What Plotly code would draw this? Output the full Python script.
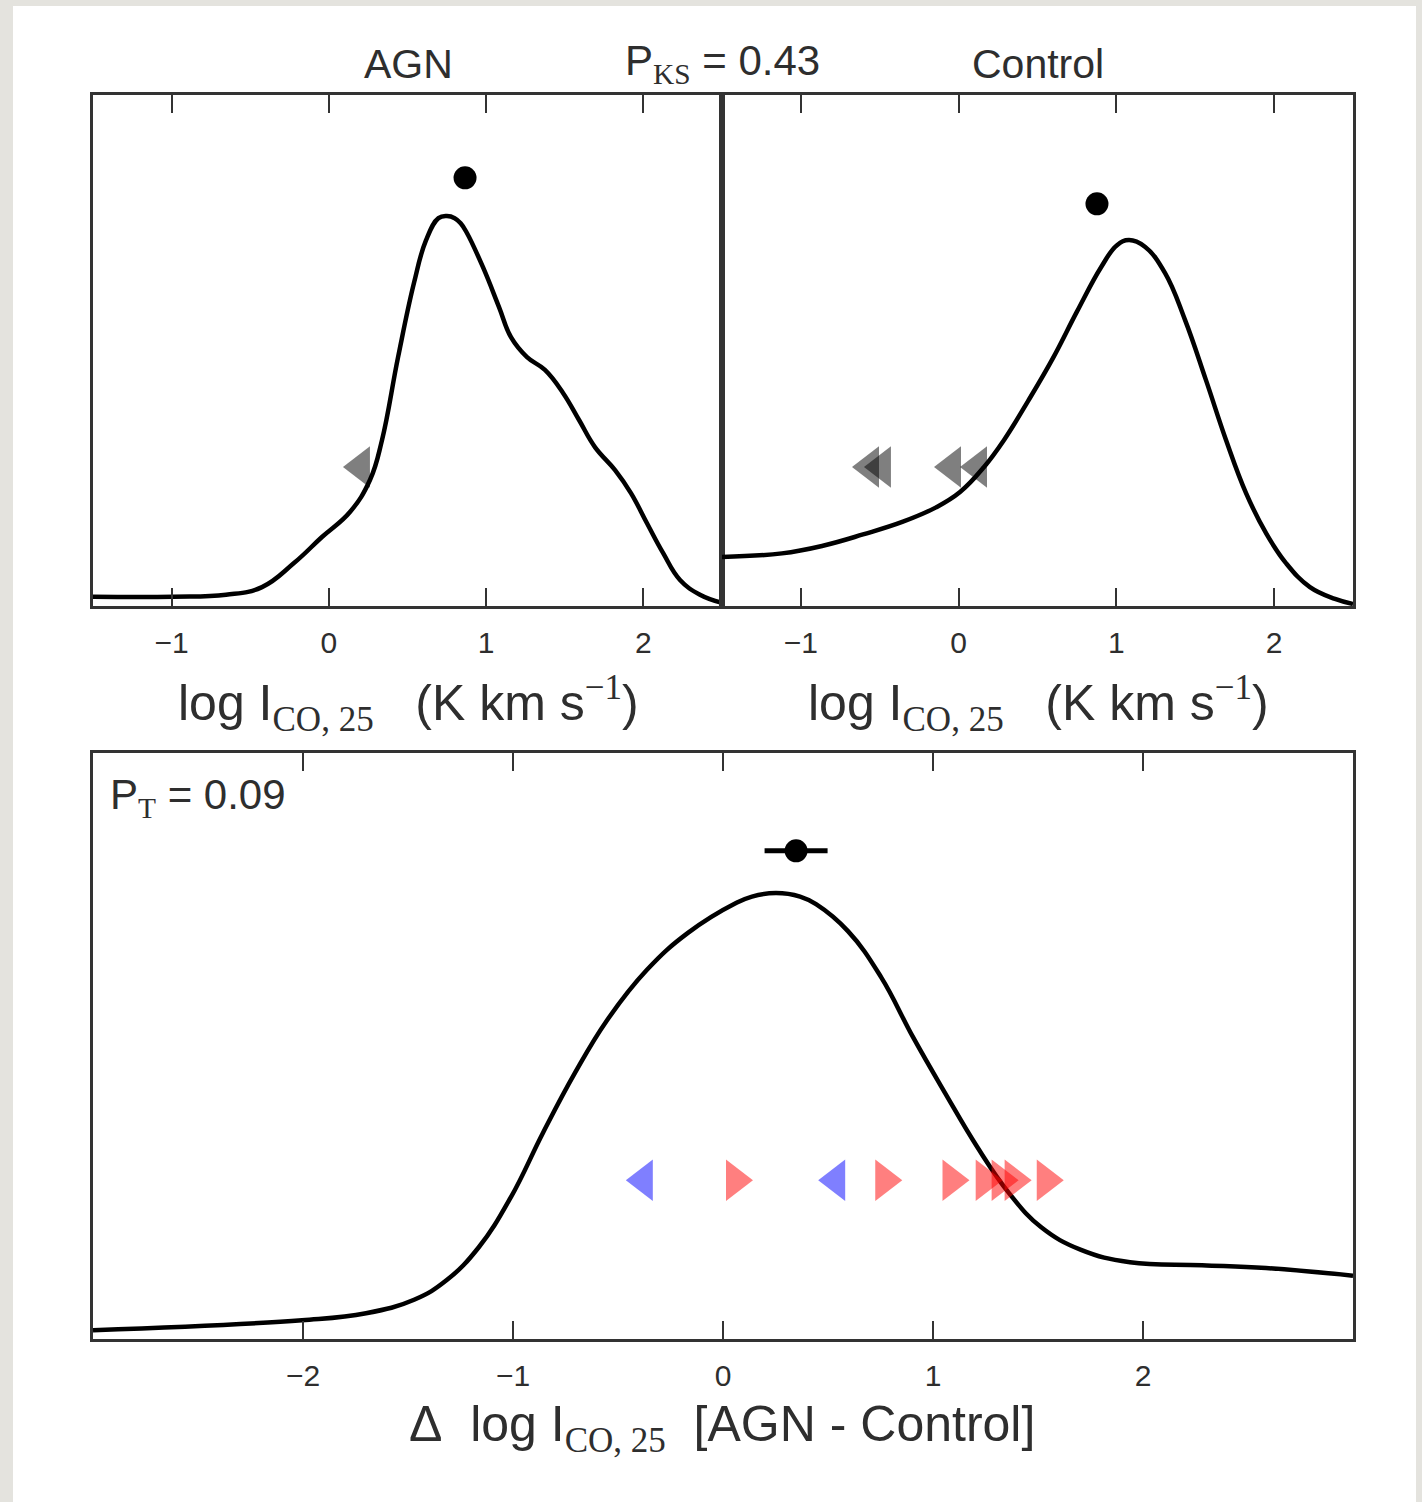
import plotly.graph_objects as go

# ---------------- data ----------------
# AGN panel: KDE curve of log I_CO,25
agn_kde_x = [-1.5, -0.991, -0.654, -0.425, -0.222, -0.044, 0.134, 0.262, 0.338, 0.440,
             0.541, 0.618, 0.697, 0.751, 0.800, 0.838, 0.878, 0.980, 1.082, 1.158, 1.260,
             1.374, 1.489, 1.591, 1.692, 1.820, 1.921, 2.023, 2.125, 2.233, 2.360, 2.5]
agn_kde_y = [0.018, 0.018, 0.022, 0.037, 0.084, 0.135, 0.184, 0.247, 0.325, 0.487,
             0.632, 0.716, 0.759, 0.763, 0.759, 0.749, 0.730, 0.663, 0.585, 0.526, 0.487,
             0.462, 0.417, 0.364, 0.311, 0.266, 0.221, 0.162, 0.104, 0.051, 0.022, 0.006]
agn_median = [0.866]
agn_median_y = [0.838]
agn_limits = [0.204]
agn_limits_y = [0.272]

# Control panel
ctl_kde_x = [-1.5, -1.120, -0.860, -0.606, -0.353, -0.143, 0.009, 0.161, 0.288, 0.440,
             0.598, 0.750, 0.903, 1.004, 1.080, 1.181, 1.308, 1.435, 1.568, 1.695,
             1.822, 1.948, 2.075, 2.227, 2.386, 2.5]
ctl_kde_y = [0.096, 0.103, 0.118, 0.140, 0.165, 0.193, 0.223, 0.272, 0.325, 0.401,
             0.485, 0.576, 0.663, 0.706, 0.716, 0.703, 0.652, 0.560, 0.442, 0.325,
             0.221, 0.143, 0.084, 0.037, 0.014, 0.004]
ctl_median = [0.877]
ctl_median_y = [0.787]
ctl_limits = [-0.562, -0.486, -0.042, 0.123]
ctl_limits_y = [0.272, 0.272, 0.272, 0.272]

# Difference panel
diff_kde_x = [-3.0, -2.005, -1.700, -1.471, -1.314, -1.162, -1.010, -0.857, -0.705, -0.552,
              -0.362, -0.167, 0.062, 0.138, 0.252, 0.367, 0.443, 0.595, 0.752, 0.905, 1.057,
              1.210, 1.362, 1.514, 1.705, 1.938, 2.281, 2.586, 3.0]
diff_kde_y = [0.015, 0.032, 0.044, 0.067, 0.101, 0.157, 0.242, 0.352, 0.454, 0.544,
              0.630, 0.693, 0.744, 0.755, 0.761, 0.755, 0.742, 0.696, 0.618, 0.515, 0.420,
              0.328, 0.249, 0.191, 0.152, 0.131, 0.126, 0.121, 0.108]
diff_mean = [0.348]
diff_mean_y = [0.833]
diff_mean_err = [0.150]
diff_upper = [-0.377, 0.539]          # blue, left-pointing
diff_upper_y = [0.271, 0.271]
diff_lower = [0.057, 0.768, 1.088, 1.246, 1.322, 1.384, 1.537]   # red, right-pointing
diff_lower_y = [0.271] * 7

top_ticks = [-1, 0, 1, 2]
bottom_ticks = [-2, -1, 0, 1, 2]

# ---------------- figure ----------------
W, H = 1422, 1502
FONT = "Liberation Sans, Arial, sans-serif"
TXT = "#2e2e2e"
FRAME = "#333333"
BG = "#e4e3de"

def px(x):
    return x / W

def py(y):
    return 1 - y / H

fig = go.Figure()

line_style = dict(color="black", width=4.5, shape="spline", smoothing=1.2)

def tri(xs, ys, symbol, color, xa, ya):
    return go.Scatter(x=xs, y=ys, mode="markers",
                      marker=dict(symbol=symbol, size=36, color=color, line=dict(width=0)),
                      xaxis=xa, yaxis=ya)

def dot(xs, ys, xa, ya, err=None):
    kw = {}
    if err is not None:
        kw["error_x"] = dict(type="data", array=err, color="black", thickness=5, width=0)
    return go.Scatter(x=xs, y=ys, mode="markers",
                      marker=dict(size=23, color="black", line=dict(width=0)),
                      xaxis=xa, yaxis=ya, **kw)

fig.add_trace(go.Scatter(x=agn_kde_x, y=agn_kde_y, mode="lines", line=line_style,
                         xaxis="x", yaxis="y", hoverinfo="skip"))
fig.add_trace(tri(agn_limits, agn_limits_y, "triangle-left", "rgba(0,0,0,0.5)", "x", "y"))
fig.add_trace(dot(agn_median, agn_median_y, "x", "y"))

fig.add_trace(go.Scatter(x=ctl_kde_x, y=ctl_kde_y, mode="lines", line=line_style,
                         xaxis="x2", yaxis="y2", hoverinfo="skip"))
fig.add_trace(tri(ctl_limits, ctl_limits_y, "triangle-left", "rgba(0,0,0,0.5)", "x2", "y2"))
fig.add_trace(dot(ctl_median, ctl_median_y, "x2", "y2"))

fig.add_trace(go.Scatter(x=diff_kde_x, y=diff_kde_y, mode="lines", line=line_style,
                         xaxis="x3", yaxis="y3", hoverinfo="skip"))
fig.add_trace(tri(diff_upper, diff_upper_y, "triangle-left", "rgba(0,0,255,0.5)", "x3", "y3"))
fig.add_trace(tri(diff_lower, diff_lower_y, "triangle-right", "rgba(255,0,0,0.5)", "x3", "y3"))
fig.add_trace(dot(diff_mean, diff_mean_y, "x3", "y3", err=diff_mean_err))

def xax(domain, rng, ticks, anchor):
    return dict(domain=domain, range=rng, tickvals=ticks,
                ticktext=[("\u2212" + str(-t)) if t < 0 else str(t) for t in ticks],
                ticks="inside", ticklen=18, tickwidth=2, tickcolor=FRAME,
                showline=True, linewidth=3, linecolor=FRAME, mirror="allticks",
                showgrid=False, zeroline=False, anchor=anchor,
                tickfont=dict(family=FONT, size=30, color=TXT), ticklabelstandoff=8)

def yax(domain, anchor):
    return dict(domain=domain, range=[0, 1], showticklabels=False, ticks="",
                showline=True, linewidth=3, linecolor=FRAME, mirror=True,
                showgrid=False, zeroline=False, anchor=anchor)

fig.update_layout(
    width=W, height=H,
    margin=dict(l=0, r=0, t=0, b=0),
    paper_bgcolor=BG,
    plot_bgcolor="white",
    showlegend=False,
    font=dict(family=FONT, color=TXT),
    xaxis=xax([px(93), px(722)], [-1.5, 2.5], top_ticks, "y"),
    yaxis=yax([py(606), py(95)], "x"),
    xaxis2=xax([px(722), px(1353)], [-1.5, 2.5], top_ticks, "y2"),
    yaxis2=yax([py(606), py(95)], "x2"),
    xaxis3=xax([px(93), px(1353)], [-3, 3], bottom_ticks, "y3"),
    yaxis3=yax([py(1339), py(753)], "x3"),
)

# white card behind the figure
fig.add_shape(type="rect", xref="paper", yref="paper", x0=px(13), x1=px(1416), y0=0, y1=py(6),
              fillcolor="white", line=dict(width=0), layer="below")

def sub(t):
    return "<sub><span style=\"font-family:'Liberation Serif'\">" + t + "</span></sub>"

def sup(t):
    return "<sup><span style=\"font-family:'Liberation Serif'\">" + t + "</span></sup>"

ann = []
def add_text(text, x, y, size, xanchor="center"):
    ann.append(dict(text=text, x=px(x), y=py(y), xref="paper", yref="paper",
                    xanchor=xanchor, yanchor="middle", showarrow=False,
                    font=dict(family=FONT, size=size, color=TXT)))

add_text("AGN", 408, 64, 41)
add_text("Control", 1038, 64, 41)
add_text("P" + sub("KS") + " = 0.43", 722, 64, 42)
add_text("P" + sub("T") + " = 0.09", 108, 798, 42, xanchor="left")
lab = "log I" + sub("CO, 25") + "\u00a0\u00a0\u00a0(K km s" + sup("\u22121") + ")"
add_text(lab, 408, 703, 50)
add_text(lab, 1038, 703, 50)
add_text("\u0394\u00a0\u00a0log I" + sub("CO, 25") + "\u00a0\u00a0[AGN - Control]", 722, 1428, 50)

fig.update_layout(annotations=ann)

fig.write_html("out.html", config={"displayModeBar": False},
               post_script="document.body.style.margin='0';document.body.style.background='" + BG + "';")
